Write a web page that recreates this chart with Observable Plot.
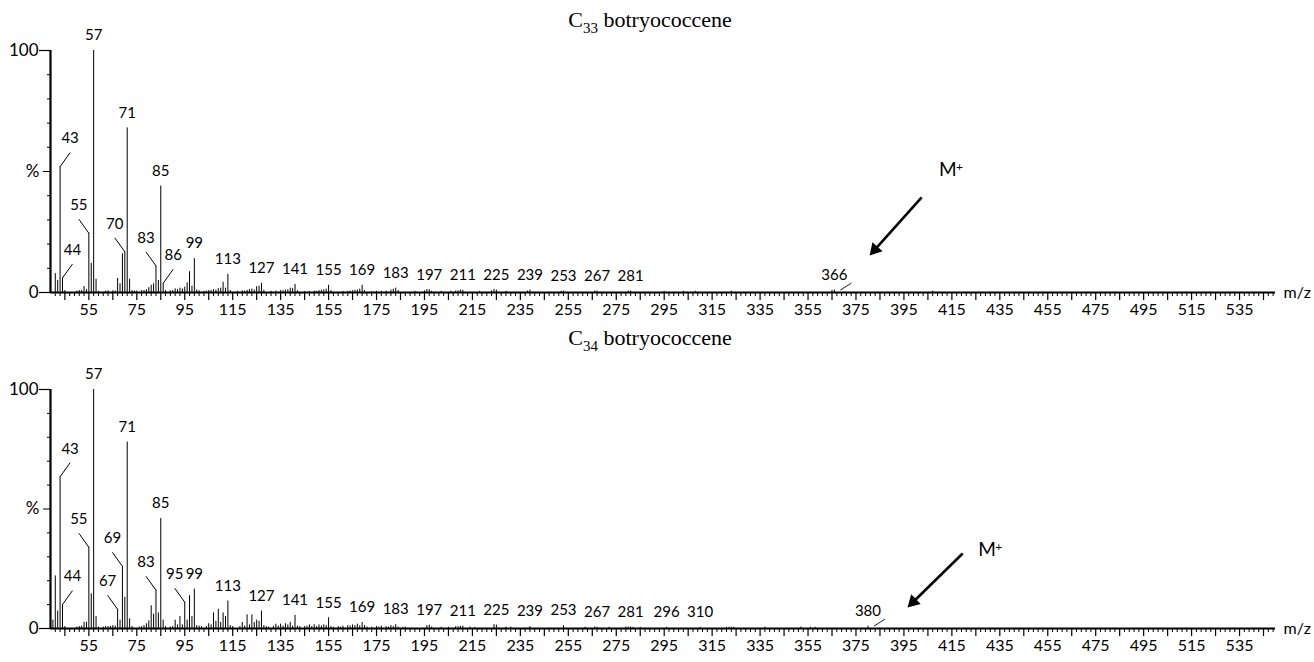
<!DOCTYPE html>
<html>
<head>
<meta charset="utf-8">
<script src="https://cdn.jsdelivr.net/npm/d3@7"></script>
<script src="https://cdn.jsdelivr.net/npm/@observablehq/plot@0.6"></script>
<style>
  html, body { margin: 0; padding: 0; background: #fff; }
  #figure { position: relative; width: 1314px; height: 662px; overflow: hidden; }
  .panel { position: absolute; left: 0; }
  .panel svg { display: block; overflow: visible; }
  .title {
    position: absolute; transform: translateX(-50%);
    font-family: "Liberation Serif", "Times New Roman", serif;
    font-size: 22px; line-height: 1; color: #000; white-space: nowrap;
  }
  .title sub { font-size: 15px; vertical-align: -6px; line-height: 0; }
</style>
</head>
<body>
<div id="figure"></div>
<script>
// ---- m/z axis ----
const mzTickLabels = [55, 75, 95, 115, 135, 155, 175, 195, 215, 235, 255, 275, 295,
  315, 335, 355, 375, 395, 415, 435, 455, 475, 495, 515, 535];
const mzMajorTicks = d3.range(45, 550, 10);
const mzMinorTicks = d3.range(41, 550, 2).filter(v => !mzMajorTicks.includes(v));

// ---- relative abundance axis (%) ----
const pctEndTicks = [0, 100];
const pctMidTick = [50];
const pctMinorTicks = [10, 20, 30, 40, 60, 70, 80, 90];

// ---- C33 botryococcene spectrum: [m/z, relative abundance %] ----
const c33Peaks = [
  [39,0.6],[41,7.8],[42,5.0],[43,52.0],[44,6.0],[45,0.8],
  [50,0.6],[51,0.8],[52,0.8],[53,2.5],[54,1.2],[55,24.5],[56,12.0],[57,100],[58,5.5],[59,0.5],
  [62,0.6],[63,0.7],[65,0.7],[66,0.6],[67,5.8],[68,3.6],[69,16.0],[70,16.8],[71,68.0],[72,5.5],
  [73,0.8],[74,0.6],[75,0.6],[77,0.8],[78,0.8],[79,1.2],[80,2.0],[81,3.0],[82,3.6],[83,11.0],
  [84,5.0],[85,44.0],[86,3.8],[87,0.8],[89,0.7],[90,0.8],[91,1.5],[92,1.2],[93,1.8],[94,1.5],
  [95,2.2],[96,4.0],[97,8.6],[98,2.6],[99,14.0],[100,1.0],[101,0.7],[103,0.5],[104,0.6],
  [105,0.8],[106,0.8],[107,1.2],[108,1.0],[109,1.6],[110,1.8],[111,4.2],[112,1.8],[113,7.5],
  [114,0.8],[117,0.5],[119,0.7],[120,0.6],[121,0.9],[122,1.2],[123,1.4],[124,1.0],[125,2.4],
  [126,2.6],[127,3.8],[128,0.9],[131,0.5],[133,0.6],[135,0.8],[136,0.7],[137,1.0],[138,1.1],
  [139,1.8],[140,1.6],[141,3.3],[142,0.7],[145,0.4],[147,0.5],[149,0.6],[150,0.5],[151,0.8],
  [152,0.9],[153,1.1],[154,1.4],[155,3.0],[156,0.8],[161,0.4],[163,0.5],[164,0.6],[165,0.7],
  [166,0.9],[167,1.0],[168,1.4],[169,3.0],[170,0.8],[173,0.4],[175,0.5],[177,0.5],[179,0.6],
  [181,1.0],[182,1.4],[183,1.8],[184,0.8],[191,0.5],[195,0.7],[196,1.2],[197,1.1],[198,0.5],
  [202,0.5],[206,0.5],[208,0.6],[209,0.7],[210,1.0],[211,0.9],[218,0.5],[223,0.7],[224,1.3],
  [225,1.0],[229,0.5],[238,0.6],[239,1.0],[252,0.5],[253,0.6],[266,0.6],[267,0.6],[280,0.6],
  [281,0.6],[295,0.5],[303,0.5],[308,0.5],[323,0.6],[365,0.9],[366,1.0],[407,0.6]
];
const c33LabelsAbove = [57, 71, 85, 99, 113, 127, 141, 155, 169, 183, 197, 211, 225, 239, 253, 267, 281, 366];
const c33LabelsLeft = [55, 70, 83];
const c33LabelsRight = [43, 44, 86];
const c33Pointers = [366];
const c33Arrow = {from: [402.4, 39.3], to: [380.7, 15.3]};
const c33Ion = [409.6, 50.8];

// ---- C34 botryococcene spectrum: [m/z, relative abundance %] ----
const c34Peaks = [
  [39,1.0],[40,3.5],[41,22.0],[42,7.3],[43,63.5],[44,10.0],[45,0.8],
  [50,0.6],[51,0.8],[52,1.0],[53,2.6],[54,2.6],[55,34.0],[56,14.5],[57,100],[58,5.0],[59,0.6],
  [61,0.6],[62,0.8],[63,0.8],[64,0.9],[65,1.2],[66,1.0],[67,8.0],[68,3.5],[69,26.0],[70,13.0],
  [71,78.0],[72,4.0],[73,0.8],[76,0.6],[77,0.8],[78,1.2],[79,2.0],[80,3.2],[81,9.5],[82,6.0],
  [83,16.0],[84,6.5],[85,46.0],[86,3.5],[87,0.8],[89,0.6],[90,0.8],[91,3.5],[92,1.5],[93,5.0],
  [94,1.5],[95,11.0],[96,3.5],[97,13.7],[98,5.0],[99,16.5],[100,1.2],[101,1.0],[102,0.8],
  [104,0.8],[105,2.0],[106,1.5],[107,6.5],[108,3.0],[109,8.0],[110,2.5],[111,6.5],[112,5.0],
  [113,11.5],[114,1.2],[115,0.8],[118,0.8],[119,2.5],[120,1.0],[121,5.7],[122,1.5],[123,5.7],
  [124,2.5],[125,3.5],[126,3.0],[127,7.3],[128,1.2],[129,0.8],[130,0.6],[132,0.8],[133,1.8],
  [134,1.0],[135,1.8],[136,1.0],[137,2.0],[138,1.5],[139,2.6],[140,1.0],[141,5.5],[142,1.0],
  [143,0.8],[145,0.8],[146,1.0],[147,1.5],[148,0.8],[149,1.6],[150,0.8],[151,1.5],[152,1.0],
  [153,1.5],[154,1.2],[155,4.5],[156,0.8],[157,0.5],[159,0.8],[160,0.6],[161,1.0],[163,1.2],
  [164,1.0],[165,1.5],[166,1.2],[167,1.8],[168,1.0],[169,2.5],[170,1.2],[171,0.6],[173,0.6],
  [175,0.8],[176,0.6],[177,1.0],[179,0.8],[180,0.6],[181,1.2],[182,0.8],[183,1.6],[184,0.6],
  [186,0.5],[187,0.6],[196,1.2],[197,1.4],[198,0.6],[202,0.5],[205,0.5],[208,0.7],[209,0.8],
  [210,0.9],[211,1.0],[214,0.6],[216,0.5],[224,1.6],[225,1.4],[229,0.6],[231,0.6],[239,0.8],
  [253,1.2],[262,0.5],[266,0.6],[267,0.5],[272,0.5],[279,0.6],[280,0.6],[281,0.6],[282,0.5],
  [285,0.5],[296,0.5],[310,0.5],[321,0.5],[322,0.5],[323,0.5],[324,0.5],[337,0.6],[352,0.6],
  [356,0.5],[358,0.5],[380,1.0]
];
const c34LabelsAbove = [57, 71, 85, 99, 113, 127, 141, 155, 169, 183, 197, 211, 225, 239, 253, 267, 281, 296, 310, 380];
const c34LabelsLeft = [55, 67, 69, 83, 95];
const c34LabelsRight = [43, 44];
const c34Pointers = [380];
const c34Arrow = {from: [419.5, 31.4], to: [396.5, 8.8]};
const c34Ion = [426.0, 33.0];

// ---- layout ----
const WIDTH = 1314;
const X_DOMAIN = [39, 550];
const MARGIN_LEFT = 50, MARGIN_RIGHT = 39;
const kx = (WIDTH - MARGIN_LEFT - MARGIN_RIGHT) / (X_DOMAIN[1] - X_DOMAIN[0]); // px per m/z unit
const SANS = "Lato, 'Open Sans', sans-serif";

function spectrum({peaks, above, left, right, pointers, arrow, ion, height, marginTop, marginBottom}) {
  const ky = (height - marginTop - marginBottom) / 100; // px per %
  const value = new Map(peaks);
  const lab = (mz, side = 0) => ({mz, v: value.get(mz), side});

  // leader lines: 10px sideways, 14px up from the peak top
  const LX = 10 / kx, LY = 14 / ky;
  const leaders = [...left.map(m => lab(m, -1)), ...right.map(m => lab(m, 1))];

  // short slanted pointers next to the high-mass labels
  const ptr = pointers.map(m => lab(m));

  // M+ arrow: shaft plus a filled head rotated along the shaft direction
  const dxp = (arrow.to[0] - arrow.from[0]) * kx;
  const dyp = -(arrow.to[1] - arrow.from[1]) * ky;
  const len = Math.hypot(dxp, dyp);
  const ux = dxp / len, uy = dyp / len;
  const headR = 6.5;
  const s = headR * Math.sqrt(Math.PI) * 0.6824;
  const head = {x: arrow.to[0] - ux * s / kx, y: arrow.to[1] + uy * s / ky,
                rot: Math.atan2(dxp, -dyp) * 180 / Math.PI};

  return Plot.plot({
    width: WIDTH,
    height,
    marginLeft: MARGIN_LEFT,
    marginRight: MARGIN_RIGHT,
    marginTop,
    marginBottom,
    style: {fontFamily: SANS, color: "#000", background: "transparent", overflow: "visible"},
    x: {domain: X_DOMAIN},
    y: {domain: [0, 100]},
    marks: [
      // m/z axis: labels, major and minor ticks
      Plot.axisX(mzTickLabels, {tickSize: 0, tickPadding: 11, fontSize: 16, label: null}),
      Plot.axisX(mzMajorTicks, {tickSize: 8, tickFormat: () => "", label: null, strokeWidth: 1.2}),
      Plot.axisX(mzMinorTicks, {tickSize: 4, tickFormat: () => "", label: null}),
      // % axis
      Plot.axisY(pctEndTicks, {tickSize: 11, tickPadding: 1, fontSize: 17, label: null, strokeWidth: 1.2}),
      Plot.axisY(pctMidTick, {tickSize: 7, tickPadding: 4, fontSize: 17, tickFormat: () => "%", label: null}),
      Plot.axisY(pctMinorTicks, {tickSize: 3, tickFormat: () => "", label: null}),
      Plot.ruleX([X_DOMAIN[0]], {y1: 0, y2: 100, strokeWidth: 2.2}),
      Plot.ruleY([0], {x1: X_DOMAIN[0], x2: X_DOMAIN[1], strokeWidth: 2.2}),
      Plot.text(["m/z"], {x: X_DOMAIN[1], y: 0, dx: 8, textAnchor: "start", fontSize: 16}),

      // spectrum sticks
      Plot.ruleX(peaks, {x: d => d[0], y1: 0, y2: d => d[1], stroke: "#000", strokeWidth: 1}),

      // peak labels
      Plot.text(above.map(m => lab(m)), {x: "mz", y: "v", dy: -15, text: d => String(d.mz), fontSize: 15}),
      Plot.link(leaders, {x1: "mz", y1: "v", x2: d => d.mz + d.side * LX, y2: d => d.v + LY,
                          stroke: "#000", strokeWidth: 1}),
      Plot.text(leaders, {x: d => d.mz + d.side * LX, y: d => d.v + LY, dy: -14,
                          text: d => String(d.mz), fontSize: 15}),
      Plot.link(ptr, {x1: d => d.mz + 6 / kx, y1: "v", x2: d => d.mz + 17 / kx, y2: d => d.v + 7 / ky,
                      stroke: "#000", strokeWidth: 0.9}),

      // molecular ion arrow and label
      Plot.link([arrow], {x1: d => d.from[0], y1: d => d.from[1], x2: () => head.x, y2: () => head.y,
                          stroke: "#000", strokeWidth: 2.6}),
      Plot.dot([head], {x: "x", y: "y", rotate: "rot", symbol: "triangle2", r: headR, fill: "#000", stroke: "none"}),
      Plot.text([ion], {x: d => d[0], y: d => d[1], text: () => "M", textAnchor: "start", fontSize: 19}),
      Plot.text([ion], {x: d => d[0], y: d => d[1], text: () => "+", textAnchor: "start", fontSize: 12, dx: 17, dy: -2})
    ]
  });
}

const panels = [
  {top: 0, title: ["C", "33", "botryococcene"], titleTop: 9,
   chart: {peaks: c33Peaks, above: c33LabelsAbove, left: c33LabelsLeft, right: c33LabelsRight,
           pointers: c33Pointers, arrow: c33Arrow, ion: c33Ion, height: 331, marginTop: 50, marginBottom: 39}},
  {top: 331, title: ["C", "34", "botryococcene"], titleTop: 327,
   chart: {peaks: c34Peaks, above: c34LabelsAbove, left: c34LabelsLeft, right: c34LabelsRight,
           pointers: c34Pointers, arrow: c34Arrow, ion: c34Ion, height: 331, marginTop: 58, marginBottom: 34}}
];

const figure = document.getElementById("figure");
for (const p of panels) {
  const wrap = document.createElement("div");
  wrap.className = "panel";
  wrap.style.top = p.top + "px";
  wrap.appendChild(spectrum(p.chart));
  figure.appendChild(wrap);

  const t = document.createElement("div");
  t.className = "title";
  t.style.left = "650px";
  t.style.top = p.titleTop + "px";
  t.innerHTML = `${p.title[0]}<sub>${p.title[1]}</sub> ${p.title[2]}`;
  figure.appendChild(t);
}
</script>
</body>
</html>
